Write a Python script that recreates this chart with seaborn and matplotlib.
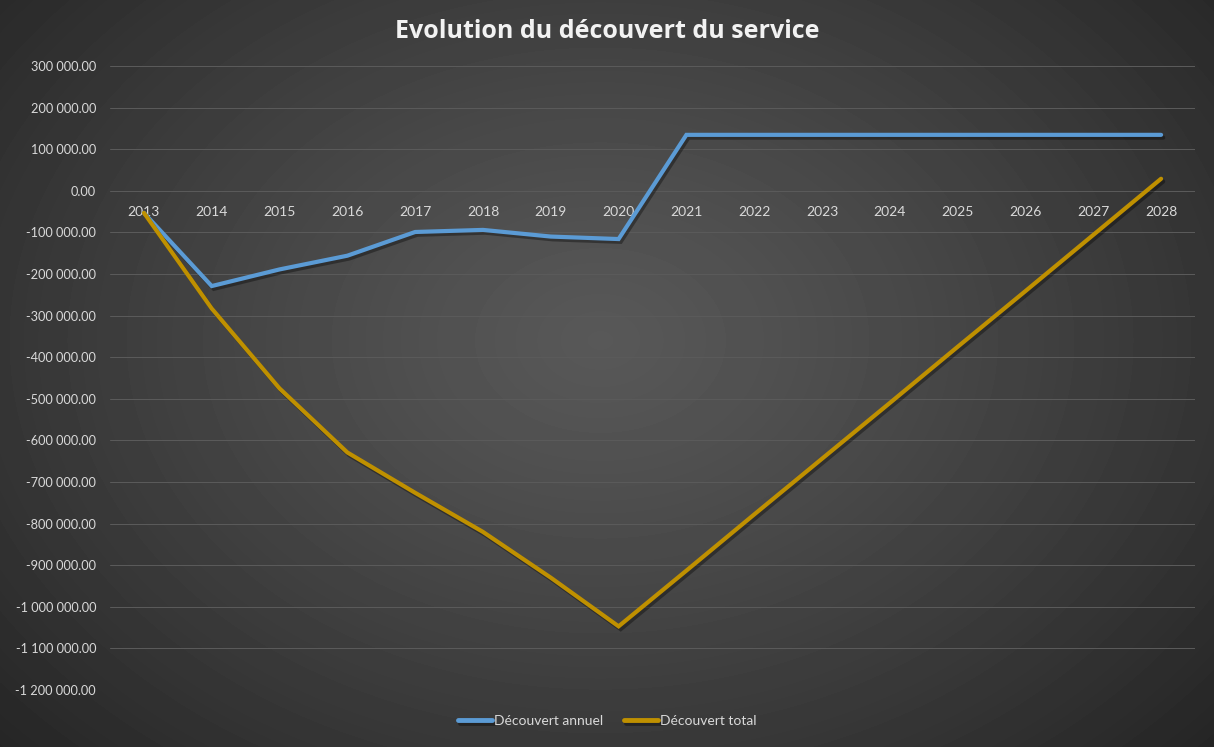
import numpy as np
import pandas as pd
import matplotlib
matplotlib.use("Agg")
import matplotlib.pyplot as plt
import matplotlib.patheffects as pe
import seaborn as sns

# values
years = [str(y) for y in range(2013, 2029)]
decouvert_annuel = [-53000, -229000, -189000, -156000, -99000, -94000, -110000, -116000,
                    134500, 134500, 134500, 134500, 134500, 134500, 134500, 134500]
decouvert_total = [-53000, -283000, -475000, -629000, -726000, -820000, -930000, -1047000,
                   -913000, -778000, -644000, -510000, -375000, -241000, -106000, 29000]
series_names = ["Découvert annuel", "Découvert total"]
y_ticks = list(range(-1200000, 300001, 100000))

colors = {"Découvert annuel": "#5B9BD5", "Découvert total": "#BF9000"}
txt = "#D9D9D9"

df = pd.concat([
    pd.DataFrame({"annee": years, "valeur": decouvert_annuel, "serie": series_names[0]}),
    pd.DataFrame({"annee": years, "valeur": decouvert_total, "serie": series_names[1]}),
])

sns.set_style("dark")
plt.rcParams["font.family"] = ["Lato", "DejaVu Sans"]

fig = plt.figure(figsize=(12.14, 7.47), dpi=100)

# radial grey gradient background
bg = fig.add_axes([0, 0, 1, 1])
yy, xx = np.mgrid[0:747, 0:1214]
r = np.sqrt(((xx - 600) / 760.0) ** 2 + ((yy - 340) / 560.0) ** 2)
r = np.clip(r / r.max(), 0, 1)
grad = 0x58 - (0x58 - 0x25) * r ** 1.2
bg.imshow(grad, cmap="gray", vmin=0, vmax=255, aspect="auto", interpolation="bilinear")
bg.axis("off")

ax = fig.add_axes([110 / 1214, 57 / 747, 1085 / 1214, 624 / 747])
ax.patch.set_alpha(0)

sns.lineplot(data=df, x="annee", y="valeur", hue="serie", palette=colors,
             linewidth=3.0, sort=False, ax=ax, legend=True)
for line in ax.lines:
    line.set_solid_capstyle("round")
    line.set_solid_joinstyle("miter")
    line.set_path_effects([pe.SimpleLineShadow(offset=(1.5, -2), shadow_color="black", alpha=0.35),
                           pe.Normal()])

ax.set_xlim(-0.5, len(years) - 0.5)
ax.set_ylim(-1200000, 300000)
ax.set_yticks(y_ticks)
ax.set_yticklabels([f"{v:,.2f}".replace(",", " ") for v in y_ticks])
ax.grid(axis="y", color="#5A5A5A", linewidth=0.75)
ax.grid(axis="x", visible=False)

for s in ["top", "right", "left"]:
    ax.spines[s].set_visible(False)
ax.spines["bottom"].set_position(("data", 0))
ax.spines["bottom"].set_visible(False)
ax.tick_params(axis="x", length=0, pad=11, labelcolor=txt, labelsize=10)
ax.tick_params(axis="y", length=0, pad=10, labelcolor=txt, labelsize=9.2)
ax.set_xlabel("")
ax.set_ylabel("")

fig.text(0.5, 0.958, "Evolution du découvert du service", ha="center", va="center",
         color="#F2F2F2", fontsize=18, fontweight="bold", family=["Open Sans", "DejaVu Sans"])

# legend centred on the figure, below the plot
handles, labels = ax.get_legend_handles_labels()
ax.get_legend().remove()
leg = fig.legend(handles, labels, loc="center", bbox_to_anchor=(0.5, 26 / 747), ncol=2,
                 frameon=False, labelcolor=txt, fontsize=10, handlelength=2.5,
                 handletextpad=0.1, columnspacing=1.5)
for h in leg.get_lines():
    h.set_linewidth(3.5)
    h.set_solid_capstyle("round")

fig.savefig("out.png", dpi=100)
